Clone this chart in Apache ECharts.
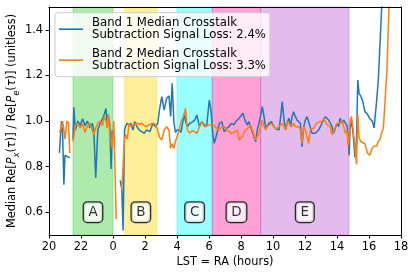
<!DOCTYPE html>
<html><head><meta charset="utf-8">
<script src="https://cdn.jsdelivr.net/npm/echarts@6/dist/echarts.min.js"></script>
<style>html,body{margin:0;padding:0;background:#fff}#c{width:415px;height:276px}</style>
</head><body><div id="c"></div>
<script>
// LST in hours, unwrapped past midnight (24 = 0h, 42 = 18h)
const lstHours = [20.65,20.78,20.85,20.93,21.00,21.12,21.22,21.30,21.40,21.50,21.55,21.65,21.80,21.95,22.10,22.25,22.40,22.55,22.70,22.80,22.92,23.05,23.20,23.35,23.45,23.56,23.63,23.70,23.80,23.88,23.95,24.05,24.20,24.30,24.45,24.55,24.63,24.72,24.80,24.90,25.00,25.10,25.25,25.35,25.50,25.65,25.80,25.95,26.10,26.30,26.50,26.65,26.80,26.90,27.05,27.20,27.35,27.50,27.60,27.70,27.80,27.90,28.00,28.15,28.25,28.35,28.46,28.53,28.65,28.80,28.95,29.10,29.25,29.40,29.55,29.70,29.85,30.02,30.12,30.23,30.33,30.50,30.65,30.80,30.95,31.10,31.25,31.40,31.56,31.67,31.77,31.88,32.00,32.12,32.25,32.40,32.50,32.60,32.71,32.81,32.92,33.02,33.12,33.23,33.33,33.44,33.54,33.65,33.75,33.90,34.06,34.20,34.375,34.48,34.58,34.69,34.79,34.90,35.00,35.10,35.19,35.29,35.40,35.50,35.60,35.71,35.81,35.92,36.02,36.12,36.23,36.33,36.44,36.54,36.65,36.75,36.85,36.96,37.06,37.17,37.27,37.375,37.48,37.58,37.69,37.79,37.90,38.00,38.10,38.20,38.31,38.42,38.52,38.62,38.70,38.76,38.82,38.90,39.00,39.12,39.22,39.30,39.38,39.48,39.60,39.75,39.90,40.05,40.20,40.32,40.48,40.58,40.69,40.80,40.90,41.00,41.12,41.25,41.35];
const band1Values = [0.86,1.00,0.95,0.72,0.85,0.85,0.84,0.84,null,0.92,1.06,0.96,1.00,0.98,1.01,0.98,1.00,0.97,0.99,0.96,0.75,0.96,0.99,1.01,1.03,1.055,0.99,1.03,0.98,0.79,0.96,null,null,null,0.74,0.70,0.52,0.96,0.98,0.99,0.98,0.99,0.96,0.997,0.975,0.96,0.953,0.946,0.961,0.953,0.99,0.975,0.99,1.048,1.107,1.048,1.10,1.11,1.02,1.165,1.00,0.95,0.96,0.96,0.95,0.955,1.034,1.00,0.975,0.99,0.995,1.004,1.026,0.975,0.997,0.985,0.975,1.092,1.048,0.946,0.902,0.946,0.99,0.997,0.953,0.968,0.975,0.99,0.983,0.997,0.99,1.012,1.02,1.034,1.004,0.983,0.997,0.99,0.953,0.932,0.909,0.961,0.99,1.026,1.063,1.019,0.968,0.975,0.99,0.997,0.975,0.965,0.961,1.019,1.085,1.004,0.961,0.997,1.012,0.975,1.019,1.041,1.019,1.004,1.004,0.99,0.887,0.975,1.004,1.019,0.997,1.004,0.946,0.939,0.946,0.953,0.961,0.975,0.99,0.997,1.019,1.026,1.004,0.99,0.975,0.946,0.97,0.99,0.975,1.012,0.99,1.004,1.004,0.98,0.94,0.85,0.97,1.00,0.95,0.84,0.92,1.18,1.12,1.11,1.09,1.04,1.03,1.01,1.00,0.97,1.09,1.18,1.34,1.51,1.70,null,null,null,null];
const band2Values = [0.95,0.97,1.00,0.96,0.92,1.00,0.99,0.86,null,0.91,0.93,0.98,0.99,0.97,0.99,0.95,0.98,0.99,0.96,0.94,0.97,0.99,1.00,0.98,1.02,1.00,0.97,1.03,0.94,0.91,0.88,1.00,0.57,null,null,0.70,0.70,0.92,0.94,0.92,0.99,0.975,0.985,0.98,0.99,0.985,0.99,0.98,0.975,0.985,0.99,0.985,0.96,0.93,0.917,0.96,0.975,0.96,0.88,0.90,0.88,0.91,0.91,0.961,0.997,0.99,1.03,1.056,0.961,0.946,0.958,0.953,0.946,0.975,0.997,0.975,0.98,0.983,0.98,0.983,0.975,0.968,0.961,0.975,0.975,0.961,0.953,0.946,0.95,0.946,0.961,0.917,0.924,0.935,0.958,0.965,0.968,0.983,0.961,0.939,0.917,0.924,0.946,0.975,1.004,0.975,0.961,0.975,0.983,0.99,0.975,0.965,0.975,0.983,0.99,0.975,0.961,1.00,0.99,0.983,0.975,0.99,0.975,0.968,0.975,0.961,0.902,0.975,0.961,0.953,0.902,0.961,0.961,0.968,0.983,0.99,0.997,1.004,0.997,1.012,1.004,0.983,0.983,0.975,0.939,0.946,0.975,0.99,0.983,0.99,1.004,0.975,0.946,0.96,0.89,0.93,1.00,1.02,0.97,0.89,0.81,1.03,0.93,0.91,0.91,0.90,0.86,0.85,0.88,0.89,0.89,0.91,0.92,0.95,0.97,0.975,1.22,1.50,1.72];
const seriesNames = ['Band 1 Median Crosstalk\nSubtraction Signal Loss: 2.4%', 'Band 2 Median Crosstalk\nSubtraction Signal Loss: 3.3%'];
const bandNames = ['A', 'B', 'C', 'D', 'E'];
const bandStarts = [21.5, 24.73, 28.0, 30.2, 33.23];
const bandEnds = [24.0, 26.75, 30.2, 33.23, 38.75];
const bandLabelY = 0.6;
const xTicks = [20, 22, 24, 26, 28, 30, 32, 34, 36, 38, 40, 42];
const xTickLabels = ['20', '22', '0', '2', '4', '6', '8', '10', '12', '14', '16', '18'];
const yTicks = [0.6, 0.8, 1.0, 1.2, 1.4];

const FONT = 'DejaVu Sans';
const FS = 11.4;
const bandColors = ['rgba(50,205,50,0.4)', 'rgba(255,215,0,0.4)', 'rgba(0,255,255,0.4)', 'rgba(255,20,147,0.4)', 'rgba(186,85,211,0.4)'];
const pairs = vals => lstHours.map((h, i) => [h, vals[i]]);

const chart = echarts.init(document.getElementById('c'));
chart.setOption({
  animation: false,
  grid: { left: 49, right: 14, top: 7, bottom: 41, outerBoundsMode: 'none' },
  legend: {
    data: seriesNames, orient: 'vertical', left: 55, top: 12.7, selectedMode: false,
    icon: 'rect', itemWidth: 24, itemHeight: 1.6, itemGap: 6, padding: [4, 4, 4, 4],
    backgroundColor: 'rgba(255,255,255,0.8)', borderColor: '#cccccc', borderWidth: 1, borderRadius: 3,
    textStyle: { fontFamily: FONT, fontSize: 11.7, color: '#000', lineHeight: 12.5, padding: [0, 0, 0, 4] }
  },
  xAxis: [{
    type: 'value', min: 20, max: 42, interval: 2, position: 'bottom', z: 5,
    axisLine: { show: true, onZero: false, lineStyle: { color: '#000', width: 1 } },
    axisTick: { show: true, length: 3.5, lineStyle: { color: '#000', width: 1 }, customValues: xTicks },
    axisLabel: { color: '#000', fontFamily: FONT, fontSize: FS, margin: 6.5, customValues: xTicks,
      formatter: v => xTickLabels[xTicks.indexOf(Math.round(v))] },
    splitLine: { show: false },
    name: 'LST = RA (hours)', nameLocation: 'middle', nameGap: 22, nameMoveOverlap: false,
    nameTextStyle: { fontFamily: FONT, fontSize: FS, color: '#000' }
  }, {
    type: 'value', min: 20, max: 42, position: 'top', z: 5,
    axisLine: { show: true, onZero: false, lineStyle: { color: '#000', width: 1 } },
    axisTick: { show: false }, axisLabel: { show: false }, splitLine: { show: false }
  }],
  yAxis: [{
    type: 'value', min: 0.5, max: 1.5, position: 'left', z: 5,
    axisLine: { show: true, onZero: false, lineStyle: { color: '#000', width: 1 } },
    axisTick: { show: true, length: 3.5, lineStyle: { color: '#000', width: 1 }, customValues: yTicks },
    axisLabel: { color: '#000', fontFamily: FONT, fontSize: FS, margin: 6, customValues: yTicks,
      formatter: v => v.toFixed(1) },
    splitLine: { show: false },
    name: 'Median Re[{i|P}{s|x}({i|τ})] / Re[{i|P}{s|e}({i|τ})] (unitless)',
    nameLocation: 'middle', nameGap: 28, nameMoveOverlap: false,
    nameTextStyle: { fontFamily: FONT, fontSize: FS, color: '#000', lineHeight: 18,
      rich: {
        i: { fontFamily: FONT, fontSize: FS, fontStyle: 'italic', color: '#000', lineHeight: 18 },
        s: { fontFamily: FONT, fontSize: 8, fontStyle: 'italic', color: '#000', lineHeight: 9, verticalAlign: 'bottom' }
      } }
  }, {
    type: 'value', min: 0.5, max: 1.5, position: 'right', z: 5,
    axisLine: { show: true, onZero: false, lineStyle: { color: '#000', width: 1 } },
    axisTick: { show: false }, axisLabel: { show: false }, splitLine: { show: false }
  }],
  series: [{
    type: 'line', name: seriesNames[0], data: pairs(band1Values), symbol: 'none', connectNulls: false, clip: true,
    lineStyle: { color: '#1f77b4', width: 1.5 }, itemStyle: { color: '#1f77b4' }, z: 2,
    markArea: {
      silent: true,
      data: bandNames.map((n, i) => [
        { xAxis: bandStarts[i], itemStyle: { color: bandColors[i], borderColor: bandColors[i], borderWidth: 1 } },
        { xAxis: bandEnds[i] }
      ])
    }
  }, {
    type: 'line', name: seriesNames[1], data: pairs(band2Values), symbol: 'none', connectNulls: false, clip: true,
    lineStyle: { color: '#ff7f0e', width: 1.5 }, itemStyle: { color: '#ff7f0e' }, z: 3
  }, {
    type: 'scatter', name: 'labels', symbolSize: 2, itemStyle: { color: 'rgba(0,0,0,0)' }, z: 4, silent: true,
    data: bandNames.map((n, i) => ({ name: n, value: [(bandStarts[i] + bandEnds[i]) / 2, bandLabelY] })),
    label: { show: true, position: 'inside', formatter: '{b}', fontFamily: FONT, fontSize: 13.5, color: '#000',
      backgroundColor: '#fff', borderColor: '#000', borderWidth: 1.3, borderRadius: 3.5, padding: [3, 4.5, 2.5, 4.5], lineHeight: 14 }
  }]
});
</script>
</body></html>
